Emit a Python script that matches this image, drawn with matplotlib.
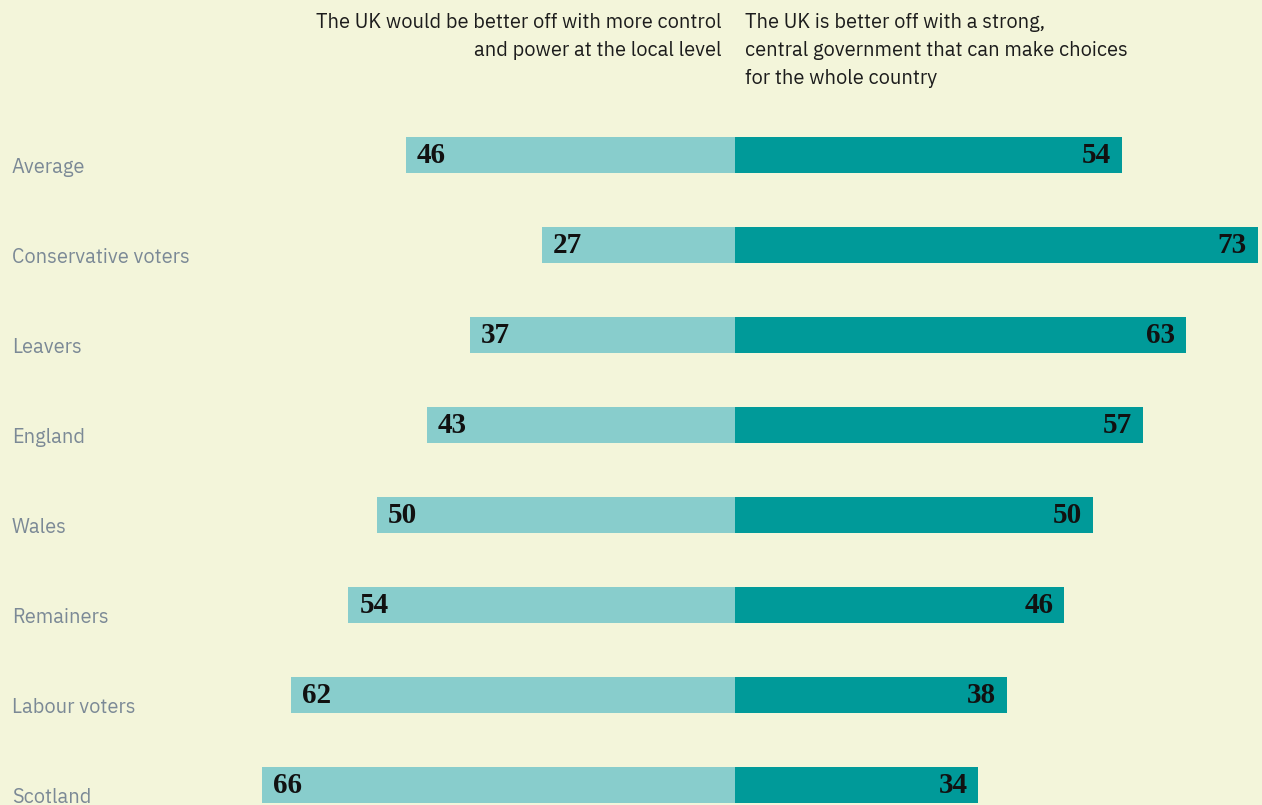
import matplotlib.pyplot as plt
from matplotlib import transforms

# share of respondents picking each statement, by group
groups = ["Average", "Conservative voters", "Leavers", "England",
          "Wales", "Remainers", "Labour voters", "Scotland"]
local_control = [46, 27, 37, 43, 50, 54, 62, 66]
central_govt = [54, 73, 63, 57, 50, 46, 38, 34]

left_header = "The UK would be better off with more control\nand power at the local level"
right_header = ("The UK is better off with a strong,\n"
                "central government that can make choices\n"
                "for the whole country")

BG = "#f3f5da"
LIGHT = "#88cdcc"
DARK = "#009a99"
LABEL_GREY = "#7b8996"

W, H, DPI = 1262, 805, 100
fig = plt.figure(figsize=(W / DPI, H / DPI), dpi=DPI, facecolor=BG)
ax = fig.add_axes([0, 0, 1, 1], facecolor=BG)

# 1 unit = 7.16 px, split line at x = 735 px; rows 90 px apart starting at 155 px
px_per_unit = 7.16
split = 735
ax.set_xlim(-split / px_per_unit, (W - split) / px_per_unit)
ax.set_ylim((H - 155) / 90, -155 / 90)
ax.axis("off")

rows = list(range(len(groups)))
ax.barh(rows, [-v for v in local_control], height=0.4, color=LIGHT, lw=0)
ax.barh(rows, central_govt, height=0.4, color=DARK, lw=0)

sans = ["IBM Plex Sans", "Open Sans", "DejaVu Sans"]
serif = ["Liberation Serif", "DejaVu Serif"]

lab_tr = transforms.blended_transform_factory(ax.transAxes, ax.transData)
for i, (g, l, r) in enumerate(zip(groups, local_control, central_govt)):
    ax.text(12 / W, i + 0.2, g, transform=lab_tr, fontsize=14.4,
            color=LABEL_GREY, family=sans, va="baseline", ha="left")
    ax.text(-l, i + 0.09, str(l), fontsize=21, fontweight="bold",
            family=serif, color="#111111", va="baseline", ha="left",
            transform=transforms.offset_copy(ax.transData, fig, x=11, y=0, units="dots"))
    ax.text(r, i + 0.09, str(r), fontsize=21, fontweight="bold",
            family=serif, color="#111111", va="baseline", ha="right",
            transform=transforms.offset_copy(ax.transData, fig, x=-11, y=0, units="dots"))

fig.text(722 / W, 1 - 13 / H, left_header, ha="right", va="top",
         fontsize=14.4, family=sans, color="#1c1c1c", linespacing=1.6)
fig.text(745 / W, 1 - 13 / H, right_header, ha="left", va="top",
         fontsize=14.4, family=sans, color="#1c1c1c", linespacing=1.6)

fig.savefig("out.png", dpi=DPI, facecolor=BG)
